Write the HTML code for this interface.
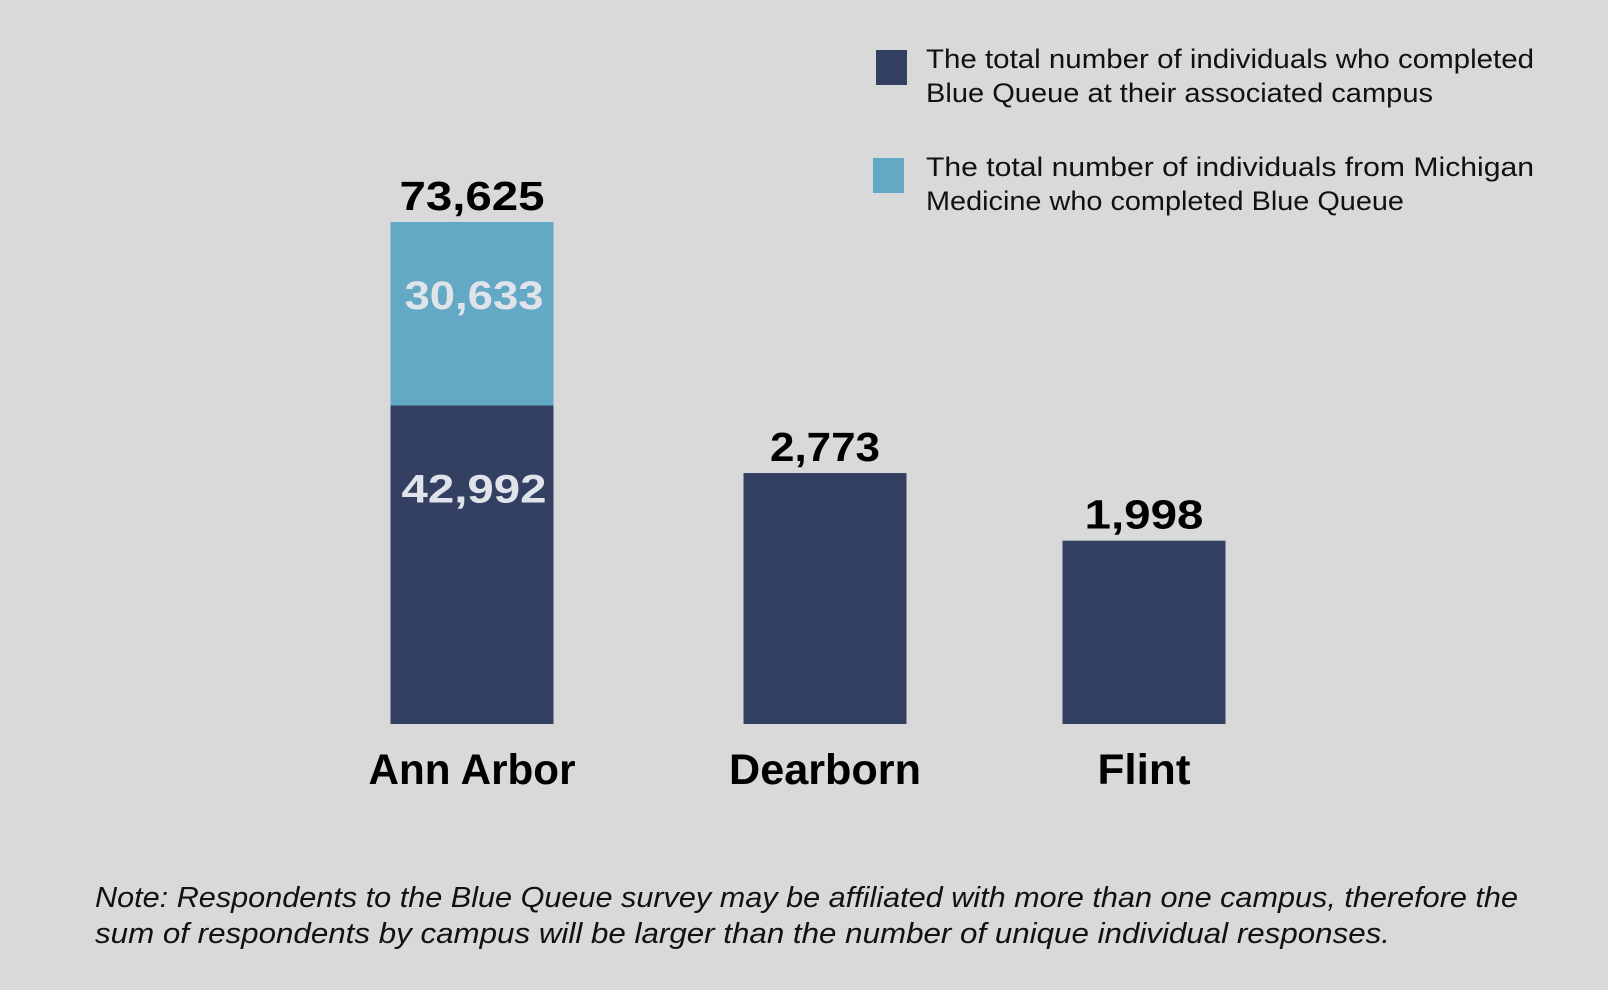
<!DOCTYPE html>
<html><head><meta charset="utf-8">
<style>
html,body{margin:0;padding:0;background:#d9d9d9;}
svg{display:block;font-family:"Liberation Sans",sans-serif;}
</style></head>
<body>
<svg id="chart" width="1608" height="990" viewBox="0 0 1608 990">
  <rect width="1608" height="990" fill="#d9d9d9"/>
  <g>
    <rect x="876" y="50" width="31" height="35" fill="#334062"/>
    <text x="926" y="68" font-size="27" fill="#111" textLength="608" lengthAdjust="spacingAndGlyphs">The total number of individuals who completed</text>
    <text x="926" y="102" font-size="27" fill="#111" textLength="507" lengthAdjust="spacingAndGlyphs">Blue Queue at their associated campus</text>
    <rect x="873" y="158" width="31" height="35" fill="#63a9c6"/>
    <text x="926" y="176" font-size="27" fill="#111" textLength="608" lengthAdjust="spacingAndGlyphs">The total number of individuals from Michigan</text>
    <text x="926" y="210" font-size="27" fill="#111" textLength="478" lengthAdjust="spacingAndGlyphs">Medicine who completed Blue Queue</text>
  </g>
  <g id="bars"></g>
  <g>
    <text x="95" y="907" font-size="29" font-style="italic" fill="#111" textLength="1423" lengthAdjust="spacingAndGlyphs">Note: Respondents to the Blue Queue survey may be affiliated with more than one campus, therefore the</text>
    <text x="95" y="943" font-size="29" font-style="italic" fill="#111" textLength="1295" lengthAdjust="spacingAndGlyphs">sum of respondents by campus will be larger than the number of unique individual responses.</text>
  </g>
</svg>
<script>
const categories = ["Ann Arbor", "Dearborn", "Flint"];
const campusValues = [42992, 2773, 1998];
const medicineValues = [30633, 0, 0];
const totalLabels = ["73,625", "2,773", "1,998"];

// styling (not data)
const totalLabelW = [145, 110, 119];
const catLabelW = [207, 192, 93];
const segLabelW = {medicine: 139, campus: 145};

const NS = "http://www.w3.org/2000/svg";
const baseY = 724, barW = 163;
const centers = [472, 825, 1144];
const totals = categories.map((c,i)=>campusValues[i]+medicineValues[i]);
const maxTotal = Math.max(...totals);
// reciprocal-power scale: domain [1049, maxTotal] -> [0, 502]
const P = -0.65, V0 = 1049, HMAX = 502;
const tf = v => Math.pow(v, P);
const scaleH = v => v <= V0 ? 0 : HMAX * (tf(V0) - tf(v)) / (tf(V0) - tf(maxTotal));
const fmt = v => v.toLocaleString("en-US");
const g = document.getElementById("bars");
function mk(tag, attrs){const e=document.createElementNS(NS,tag);for(const k in attrs)e.setAttribute(k,attrs[k]);return e;}

categories.forEach((cat, i) => {
  const total = totals[i];
  const h = scaleH(total);
  const top = baseY - h;
  let frac = campusValues[i] / total;
  if (medicineValues[i] > 0) frac = Math.min(1, frac * 1.087);
  const darkH = h * frac;
  const lightH = h - darkH;
  const x = centers[i] - barW/2;
  const dark = mk("rect",{x:x,y:baseY-darkH,width:barW,height:darkH,fill:"#334062"});
  
  
  g.appendChild(dark);
  if (lightH > 0) {
    const light = mk("rect",{x:x,y:top,width:barW,height:lightH,fill:"#63a9c6"});
    
    
    g.appendChild(light);
    const lt = mk("text",{x:centers[i]+2 - segLabelW.medicine/2,y:top+87,"font-size":"40","font-weight":"bold",fill:"#dfe3ea",textLength:segLabelW.medicine,lengthAdjust:"spacingAndGlyphs"});
    lt.textContent = fmt(medicineValues[i]);
    
    
    g.appendChild(lt);
    const dt = mk("text",{x:centers[i]+2 - segLabelW.campus/2,y:baseY-darkH+97,"font-size":"40","font-weight":"bold",fill:"#dfe3ea",textLength:segLabelW.campus,lengthAdjust:"spacingAndGlyphs"});
    dt.textContent = fmt(campusValues[i]);
    
    
    g.appendChild(dt);
  }
  const tl = mk("text",{x:centers[i] - totalLabelW[i]/2,y:top-12,"font-size":"41","font-weight":"bold",fill:"#000",textLength:totalLabelW[i],lengthAdjust:"spacingAndGlyphs"});
  tl.textContent = totalLabels[i];
  
  
  g.appendChild(tl);
  const cl = mk("text",{x:centers[i] - catLabelW[i]/2,y:784,"font-size":"43","font-weight":"bold",fill:"#000",textLength:catLabelW[i],lengthAdjust:"spacingAndGlyphs"});
  cl.textContent = cat;
  
  
  g.appendChild(cl);
});
</script>
</body></html>
